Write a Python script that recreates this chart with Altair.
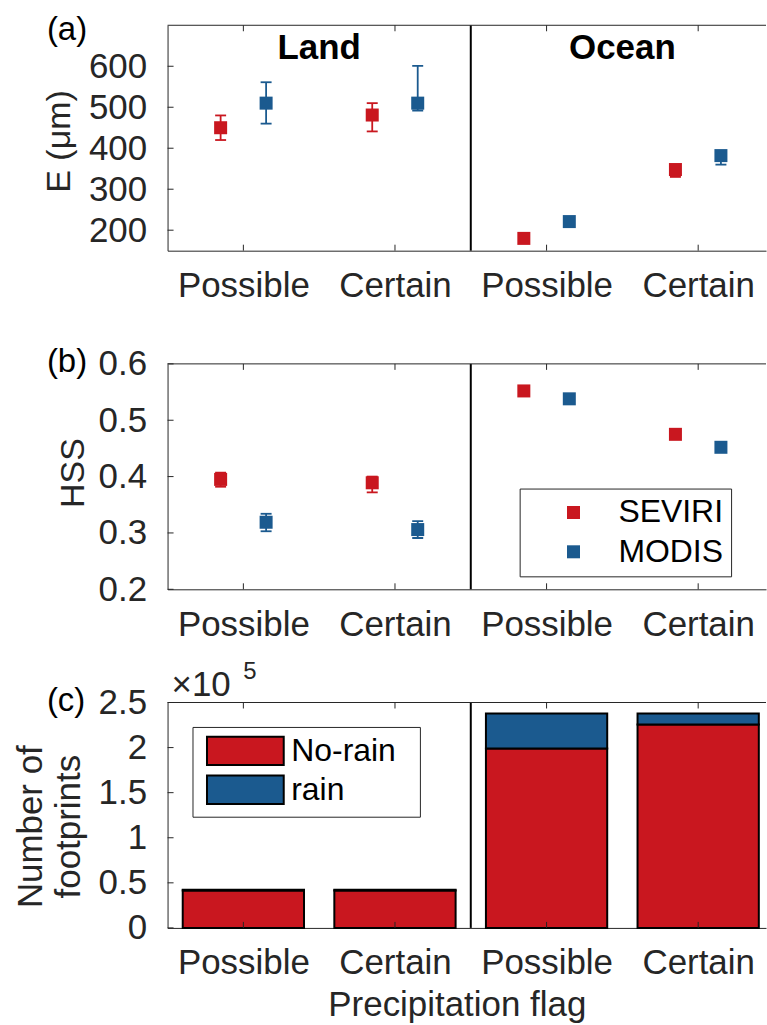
import altair as alt
import pandas as pd

# ------------------------------------------------------------------ data
surfaces = ["Land", "Ocean"]
flags = ["Possible", "Certain"]
sensors = ["SEVIRI", "MODIS"]
rain_classes = ["No-rain", "rain"]
panel_labels = ["(a)", "(b)", "(c)"]

# group order: Land-Possible, Land-Certain, Ocean-Possible, Ocean-Certain
group_surface = ["Land", "Land", "Ocean", "Ocean"]
group_flag = ["Possible", "Certain", "Possible", "Certain"]

# (a) E (um)
e_seviri = [450, 481, 180, 348]
e_seviri_lo = [420, 441, 177, 330]
e_seviri_hi = [480, 510, 183, 353]
e_modis = [510, 510, 221, 382]
e_modis_lo = [460, 492, 218, 360]
e_modis_hi = [561, 601, 224, 386]

# (b) HSS
hss_seviri = [0.395, 0.389, 0.552, 0.475]
hss_seviri_lo = [0.382, 0.372, 0.549, 0.472]
hss_seviri_hi = [0.407, 0.400, 0.555, 0.478]
hss_modis = [0.319, 0.306, 0.538, 0.452]
hss_modis_lo = [0.303, 0.291, 0.535, 0.449]
hss_modis_hi = [0.334, 0.321, 0.541, 0.455]

# (c) number of footprints
norain_counts = [41500, 41600, 199100, 225700]
rain_counts = [900, 800, 38700, 12100]
count_exponent = 5

# axis ticks / domains
e_ticks = [200, 300, 400, 500, 600]
e_domain = [150, 700]
hss_ticks = [0.2, 0.3, 0.4, 0.5, 0.6]
hss_domain = [0.2, 0.6]
count_ticks = [0, 50000, 100000, 150000, 200000, 250000]
count_domain = [0, 250000]

# ------------------------------------------------------------------ style
FONT = "Liberation Sans"
AX = "#262626"
RED = "#C9171F"
BLUE = "#1B5A8F"
W, H = 600, 226
UNIT_PX = 152.0
XMAX = W / UNIT_PX
TICK = 6
OFFSET = 0.15
BAR_W = 0.8
LBL = 35
NBSP = "\u00a0"
THIN = "\u2009"
ZWSP = "\u200b"


def js_list(values):
    return "[" + ",".join("'%s'" % v for v in values) + "]"


POS_EXPR = ("indexof(%s, datum.surface) * %d + indexof(%s, datum.flag) + 0.5"
            % (js_list(surfaces), len(flags), js_list(flags)))
SHIFT_EXPR = "(indexof(%s, datum.sensor) - 0.5) * %f" % (js_list(sensors), 2 * OFFSET)
XLABEL_EXPR = "%s[floor(datum.value) %% %d]" % (js_list(flags), len(flags))
x_tick_values = [i + 0.5 for i in range(len(surfaces) * len(flags))]

xs = alt.Scale(domain=[0, XMAX], nice=False, zero=False)

df_groups = pd.DataFrame({"surface": group_surface, "flag": group_flag})
df_surf = pd.DataFrame({"s": surfaces})
df_one = pd.DataFrame({"k": [0]})


def sensor_frame(series):
    rows = []
    for sensor, (vals, los, his) in zip(sensors, series):
        for s, f, v, lo, hi in zip(group_surface, group_flag, vals, los, his):
            rows.append(dict(surface=s, flag=f, sensor=sensor, value=v, lo=lo, hi=hi))
    return pd.DataFrame(rows)


df_e = sensor_frame([(e_seviri, e_seviri_lo, e_seviri_hi),
                     (e_modis, e_modis_lo, e_modis_hi)])
df_h = sensor_frame([(hss_seviri, hss_seviri_lo, hss_seviri_hi),
                     (hss_modis, hss_modis_lo, hss_modis_hi)])

rows = []
for s, f, nr, r in zip(group_surface, group_flag, norain_counts, rain_counts):
    rows.append(dict(surface=s, flag=f, cls=rain_classes[0], count=nr))
    rows.append(dict(surface=s, flag=f, cls=rain_classes[1], count=r))
df_c = pd.DataFrame(rows)


def x_axis(title=None):
    kw = dict(orient="bottom", values=x_tick_values, labelExpr=XLABEL_EXPR,
              ticks=False, tickSize=0, domain=True, domainColor=AX, domainWidth=1,
              grid=False, labelFont=FONT, labelFontSize=LBL, labelColor=AX,
              labelBaseline="alphabetic", labelPadding=46, labelOverlap=False,
              labelFlush=False, title=title)
    if title is not None:
        kw.update(titleFont=FONT, titleFontSize=35, titleFontWeight="normal",
                  titleColor=AX, titleBaseline="alphabetic", titleX=290, titleY=88)
    return alt.Axis(**kw)


def y_axis(title, title_x, title_y, values, title_size, label_expr=None):
    kw = dict(orient="left", values=values, title=title, ticks=False, tickSize=0,
              domain=True, domainColor=AX, domainWidth=1, grid=False,
              labelFont=FONT, labelFontSize=LBL, labelColor=AX, labelPadding=21,
              labelOverlap=False, labelFlush=False,
              titleFont=FONT, titleFontSize=title_size, titleFontWeight="normal",
              titleColor=AX, titleX=title_x, titleY=title_y,
              titleBaseline="alphabetic", titleAngle=270, titleAlign="center",
              titleLineHeight=38)
    if label_expr:
        kw["labelExpr"] = label_expr
    return alt.Axis(**kw)


def frame(ys, yticks, xax, yax, label, label_y):
    groups = alt.Chart(df_groups).transform_calculate(pos=POS_EXPR)
    bottom_ticks = groups.mark_rule(color=AX, strokeWidth=1).encode(
        x=alt.X("pos:Q", scale=xs, axis=xax),
        y=alt.value(H - TICK), y2=alt.value(H))
    top_ticks = groups.mark_rule(color=AX, strokeWidth=1).encode(
        x=alt.X("pos:Q", scale=xs, axis=xax),
        y=alt.value(0), y2=alt.value(TICK))
    left_ticks = alt.Chart(pd.DataFrame({"v": yticks})).mark_rule(
        color=AX, strokeWidth=1).encode(
        y=alt.Y("v:Q", scale=ys, axis=yax),
        x=alt.value(0), x2=alt.value(TICK))
    top_border = alt.Chart(df_one).mark_rule(color=AX, strokeWidth=1).encode(
        x=alt.X(datum=0, scale=xs, axis=xax), x2=alt.datum(XMAX),
        y=alt.value(0))
    divider = alt.Chart(df_one).mark_rule(color="black", strokeWidth=2).encode(
        x=alt.X(datum=len(flags), scale=xs, axis=xax))
    plabel = alt.Chart(pd.DataFrame({"t": [label]})).mark_text(
        align="left", baseline="alphabetic", font=FONT, fontSize=33,
        color="black").encode(text="t:N", x=alt.value(-121), y=alt.value(label_y))
    return [divider, top_border, top_ticks, bottom_ticks, left_ticks, plabel]


def sensor_layers(df, ys, xax, yax, legend):
    base = alt.Chart(df).transform_calculate(xpos=POS_EXPR + " + " + SHIFT_EXPR)
    cscale = alt.Scale(domain=sensors, range=[RED, BLUE])
    x = alt.X("xpos:Q", scale=xs, axis=xax)
    col = alt.Color("sensor:N", scale=cscale, legend=legend)
    err = base.mark_rule(strokeWidth=1.8, opacity=1).encode(
        x=x, y=alt.Y("lo:Q", scale=ys, axis=yax), y2="hi:Q", color=col)
    cap_lo = base.mark_tick(orient="horizontal", size=11, thickness=1.8, opacity=1).encode(
        x=x, y=alt.Y("lo:Q", scale=ys, axis=yax), color=col)
    cap_hi = base.mark_tick(orient="horizontal", size=11, thickness=1.8, opacity=1).encode(
        x=x, y=alt.Y("hi:Q", scale=ys, axis=yax), color=col)
    pts = base.mark_point(shape="square", filled=True, size=170, opacity=1).encode(
        x=x, y=alt.Y("value:Q", scale=ys, axis=yax), color=col)
    return [err, cap_lo, cap_hi, pts]


# ---------------------------------------------------------------- panel a
ys_a = alt.Scale(domain=e_domain, nice=False, zero=False)
xax_a = x_axis()
yax_a = y_axis("E (μm)", -98, 116, e_ticks, 34)
surf_text = alt.Chart(df_surf).transform_calculate(
    sx="indexof(%s, datum.s) * %d + %f" % (js_list(surfaces), len(flags), len(flags) / 2)
).mark_text(align="center", baseline="alphabetic", font=FONT, fontSize=35,
            fontWeight="bold", color="black").encode(
    text="s:N", x=alt.X("sx:Q", scale=xs, axis=xax_a), y=alt.value(33.4))

panel_a = alt.layer(
    *frame(ys_a, e_ticks, xax_a, yax_a, panel_labels[0], 15),
    *sensor_layers(df_e, ys_a, xax_a, yax_a, None),
    surf_text,
).properties(width=W, height=H)

# ---------------------------------------------------------------- panel b
ys_b = alt.Scale(domain=hss_domain, nice=False, zero=False)
xax_b = x_axis()
yax_b = y_axis("HSS", -84, 109, hss_ticks, 34)
legend_b = alt.Legend(
    orient="none", legendX=353, legendY=125, title=None,
    labelFont=FONT, labelFontSize=32, labelColor="black",
    symbolType="square", symbolSize=170, symbolOpacity=1, symbolStrokeWidth=0,
    symbolOffset=30, labelOffset=29, padding=8, rowPadding=7.4,
    strokeColor=AX, fillColor="white")
panel_b = alt.layer(
    *frame(ys_b, hss_ticks, xax_b, yax_b, panel_labels[1], 8.5),
    *sensor_layers(df_h, ys_b, xax_b, yax_b, legend_b),
).properties(width=W, height=H)

# ---------------------------------------------------------------- panel c
ys_c = alt.Scale(domain=count_domain, nice=False, zero=True)
xax_c = x_axis("Precipitation flag")
count_label_expr = "format(datum.value / %d, '~g')" % (10 ** count_exponent)
yax_c = y_axis(["Number of", "footprints"], -126, 124, count_ticks, 35, count_label_expr)
legend_c = alt.Legend(
    orient="none", legendX=25, legendY=24.5, title=None,
    labelFont=FONT, labelFontSize=32, labelColor="black",
    labelExpr="datum.label + '%s'" % (NBSP + THIN + ZWSP),
    symbolType="M-2.7,-1L2.7,-1L2.7,1L-2.7,1Z", symbolSize=812,
    symbolStrokeColor="black", symbolStrokeWidth=2, symbolOpacity=1,
    symbolOffset=29, labelOffset=30, padding=8, rowPadding=1,
    strokeColor=AX, fillColor="white")
bars = alt.Chart(df_c).transform_calculate(
    pos=POS_EXPR,
    order="indexof(%s, datum.cls)" % js_list(rain_classes),
).transform_stack(
    stack="count", groupby=["pos"], as_=["y0", "y1"],
    sort=[alt.SortField("order", order="ascending")],
).transform_calculate(
    xl="datum.pos - %f" % (BAR_W / 2), xr="datum.pos + %f" % (BAR_W / 2)
).mark_bar(stroke="black", strokeWidth=2, opacity=1).encode(
    x=alt.X("xl:Q", scale=xs, axis=xax_c), x2="xr:Q",
    y=alt.Y("y0:Q", scale=ys_c, axis=yax_c), y2="y1:Q",
    fill=alt.Fill("cls:N", scale=alt.Scale(domain=rain_classes, range=[RED, BLUE]),
                  legend=legend_c),
)
exp_base = alt.Chart(pd.DataFrame({"t": ["×10"]})).mark_text(
    align="left", baseline="alphabetic", font=FONT, fontSize=35, color=AX
).encode(text="t:N", x=alt.value(4), y=alt.value(-7))
exp_sup = alt.Chart(pd.DataFrame({"t": [str(count_exponent)]})).mark_text(
    align="left", baseline="alphabetic", font=FONT, fontSize=24, color=AX
).encode(text="t:N", x=alt.value(76), y=alt.value(-24))

panel_c = alt.layer(
    bars,
    *frame(ys_c, count_ticks, xax_c, yax_c, panel_labels[2], 9),
    exp_base, exp_sup,
).properties(width=W, height=H)

chart = alt.vconcat(panel_a, panel_b, panel_c, spacing=113.5, bounds="flush").resolve_scale(
    color="independent", fill="independent", y="independent", x="independent"
).properties(
    padding={"left": 13, "top": 12, "right": 0, "bottom": 0}
).configure(font=FONT).configure_view(stroke="transparent")

chart.save("out.html", embed_options={"renderer": "svg", "actions": False})
